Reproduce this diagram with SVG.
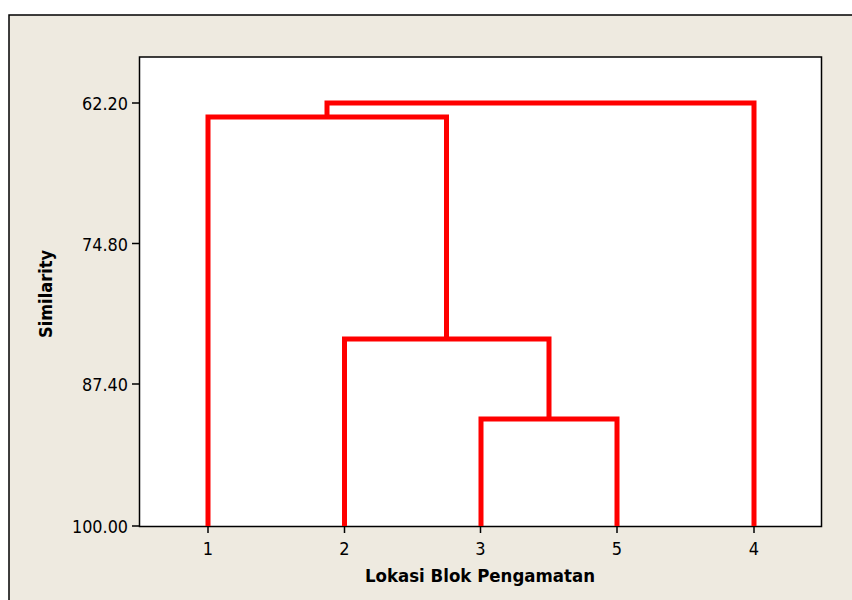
<svg xmlns="http://www.w3.org/2000/svg" width="852" height="600" viewBox="0 0 852 600">
<style>
.tick{font-family:"DejaVu Sans",Tahoma,sans-serif;font-stretch:condensed;font-size:18px;fill:#000}
.axl{font-family:"DejaVu Sans",Tahoma,sans-serif;font-stretch:condensed;font-size:18px;font-weight:bold;fill:#000}
.ax{stroke:#000;stroke-width:1.5;fill:none}
.den{stroke:#ff0000;stroke-width:5;fill:none;stroke-linejoin:miter;stroke-linecap:butt}
</style>
<rect x="0" y="0" width="852" height="600" fill="#ffffff"/>
<rect id="frame" x="9" y="15" width="850" height="592" fill="#eeeae0" stroke="#000" stroke-width="1.5"/>
<g id="plot">
<rect x="139.5" y="57" width="682" height="469.5" fill="#ffffff" stroke="#000" stroke-width="1.5"/>
</g>
<g id="yaxis">
<path class="ax" d="M132 103H139.5M132 243.5H139.5M132 384H139.5M132 526H139.5"/>
<text class="tick" x="128" y="110" text-anchor="end" textLength="46" lengthAdjust="spacingAndGlyphs">62.20</text>
<text class="tick" x="128" y="250.5" text-anchor="end" textLength="46" lengthAdjust="spacingAndGlyphs">74.80</text>
<text class="tick" x="128" y="391" text-anchor="end" textLength="46" lengthAdjust="spacingAndGlyphs">87.40</text>
<text class="tick" x="128" y="533" text-anchor="end" textLength="56" lengthAdjust="spacingAndGlyphs">100.00</text>
<text class="axl" transform="translate(52,294) rotate(-90)" text-anchor="middle" textLength="88" lengthAdjust="spacingAndGlyphs">Similarity</text>
</g>
<g id="xaxis">
<path class="ax" d="M208 526.5V533M344.5 526.5V533M480.5 526.5V533M617 526.5V533M754 526.5V533"/>
<text class="tick" x="208" y="555" text-anchor="middle">1</text>
<text class="tick" x="344.5" y="555" text-anchor="middle">2</text>
<text class="tick" x="480.5" y="555" text-anchor="middle">3</text>
<text class="tick" x="617" y="555" text-anchor="middle">5</text>
<text class="tick" x="754" y="555" text-anchor="middle">4</text>
<text class="axl" x="480" y="582" text-anchor="middle" textLength="230" lengthAdjust="spacingAndGlyphs">Lokasi Blok Pengamatan</text>
</g>
<g id="connectors">
<path class="den" d="M481 526V419H617V526"/>
<path class="den" d="M344.5 526V339H549V419"/>
<path class="den" d="M208 526V117H446.5V339"/>
<path class="den" d="M327 117V103H754V526"/>
</g>
</svg>
